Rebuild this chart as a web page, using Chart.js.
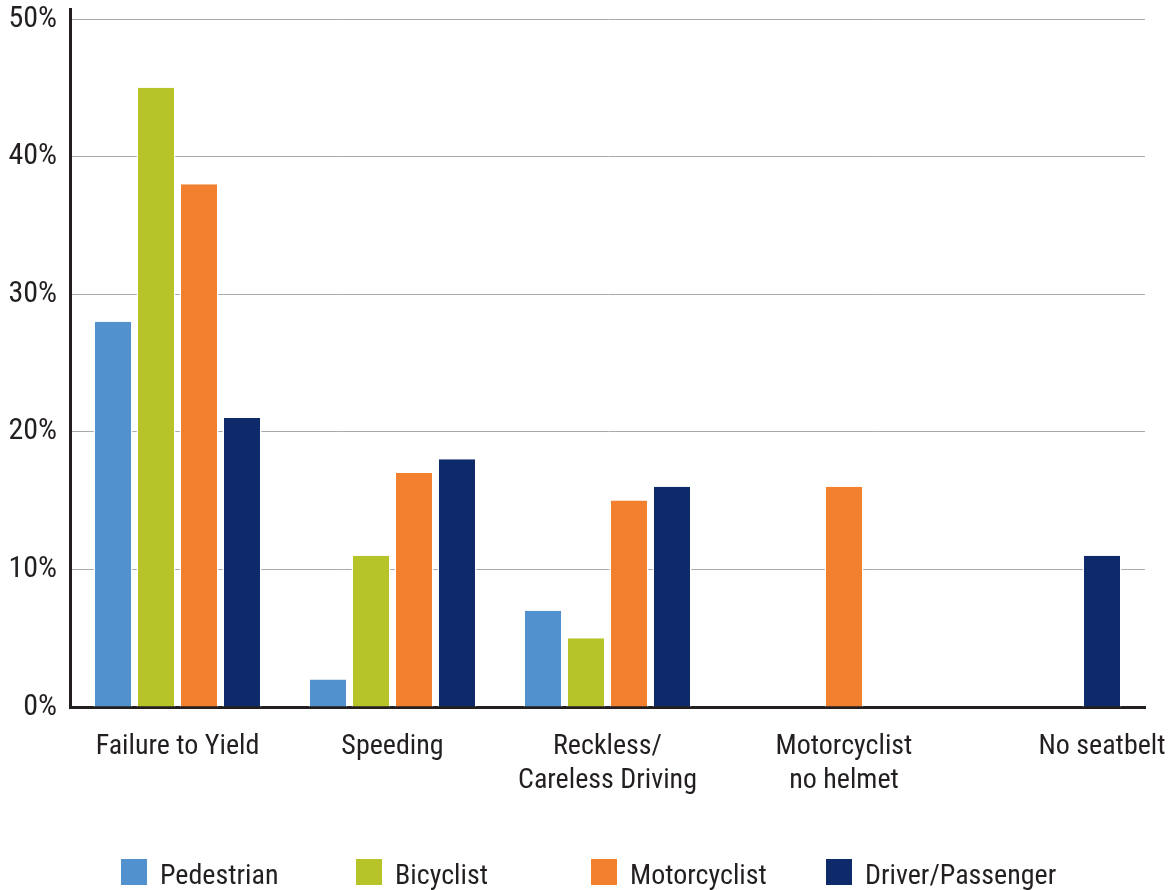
<!DOCTYPE html>
<html>
<head>
<meta charset="utf-8">
<script src="https://cdn.jsdelivr.net/npm/chart.js@4/dist/chart.umd.min.js"></script>
<style>
    html, body { margin: 0; padding: 0; background: #fff; }
    #wrap { position: relative; width: 1175px; height: 890px; }
    #legend {
        position: absolute; left: 121px; top: 859px;
        display: flex;
        font-family: 'Roboto Condensed', 'Liberation Sans Narrow', 'DejaVu Sans', sans-serif;
        font-stretch: condensed;
        font-size: 28px; color: #231f20;
    }
    .legend-item { width: 235px; display: flex; align-items: flex-end; height: 26px; }
    .legend-box { width: 26px; height: 26px; margin-right: 13px; flex: none; }
    .legend-text { line-height: 26px; position: relative; top: 3px; white-space: nowrap; }
</style>
</head>
<body>
<div id="wrap">
    <canvas id="chart" width="1175" height="890"></canvas>
    <div id="legend"></div>
</div>
<script>
// Categories (multi-line labels)
const categories = [
    ['Failure to Yield'],
    ['Speeding'],
    ['Reckless/', 'Careless Driving'],
    ['Motorcyclist', 'no helmet'],
    ['No seatbelt']
];

// Series values (%)
const pedestrian = [28, 2, 7, 0, 0];
const bicyclist = [45, 11, 5, 0, 0];
const motorcyclist = [38, 17, 15, 16, 0];
const driverPassenger = [21, 18, 16, 0, 11];

const yTicks = [0, 10, 20, 30, 40, 50];

// which series a category label sits under (null = group centre)
const labelAnchor = [null, null, null, 2, 3];

const FONT = "'Roboto Condensed', 'Liberation Sans Narrow', 'DejaVu Sans', sans-serif";
const TEXT = '#231f20';

const series = [
    { label: 'Pedestrian', data: pedestrian, color: '#5192ce' },
    { label: 'Bicyclist', data: bicyclist, color: '#b6c42a' },
    { label: 'Motorcyclist', data: motorcyclist, color: '#f2802f' },
    { label: 'Driver/Passenger', data: driverPassenger, color: '#0e2a6a' }
];

// draw the category labels under the bars
const xLabelPlugin = {
    id: 'xLabels',
    afterDraw(chart) {
        const ctx = chart.ctx;
        const xs = chart.scales.x;
        ctx.save();
        ctx.font = '28px ' + FONT;
        ctx.fillStyle = TEXT;
        ctx.textAlign = 'center';
        ctx.textBaseline = 'middle';
        categories.forEach((lines, i) => {
            let x = xs.getPixelForValue(i);
            if (labelAnchor[i] !== null) {
                x = chart.getDatasetMeta(labelAnchor[i]).data[i].x;
            }
            lines.forEach((line, j) => {
                ctx.fillText(line, x, 747 + j * 34);
            });
        });
        ctx.restore();
    }
};

const ctx = document.getElementById('chart').getContext('2d');
const chart = new Chart(ctx, {
    type: 'bar',
    data: {
        labels: categories.map(c => c.join(' ')),
        datasets: series.map(s => ({
            label: s.label,
            data: s.data,
            backgroundColor: s.color,
            borderColor: '#ffffff',
            borderWidth: { left: 1.5, right: 1.5, top: 0, bottom: 0 },
            borderSkipped: false,
            categoryPercentage: 0.8,
            barPercentage: 0.907
        }))
    },
    options: {
        responsive: false,
        animation: false,
        devicePixelRatio: 1,
        layout: { padding: { top: 9, right: 30, left: 0, bottom: 0 } },
        plugins: {
            legend: { display: false },
            tooltip: { enabled: false }
        },
        scales: {
            x: {
                grid: { display: false },
                border: { color: '#231f20', width: 3 },
                ticks: { display: false },
                afterFit: s => { s.height = 183; s.paddingLeft = 0; s.paddingRight = 0; }
            },
            y: {
                min: 0,
                max: 50.73,
                afterFit: s => { s.width = 70; s.paddingTop = 0; s.paddingBottom = 0; },
                afterBuildTicks: s => { s.ticks = yTicks.map(v => ({ value: v })); },
                grid: { color: '#aaaaaa', lineWidth: 1, drawTicks: false },
                border: { color: '#231f20', width: 3 },
                ticks: {
                    padding: 13,
                    color: TEXT,
                    font: { family: FONT, size: 30 },
                    callback: v => v + '%'
                }
            }
        }
    },
    plugins: [xLabelPlugin]
});

// html legend built from the datasets
const legend = document.getElementById('legend');
legend.innerHTML = chart.data.datasets.map(ds => `
    <div class="legend-item">
        <div class="legend-box" style="background:${ds.backgroundColor}"></div>
        <div class="legend-text">${ds.label}</div>
    </div>
`).join('');
</script>
</body>
</html>
